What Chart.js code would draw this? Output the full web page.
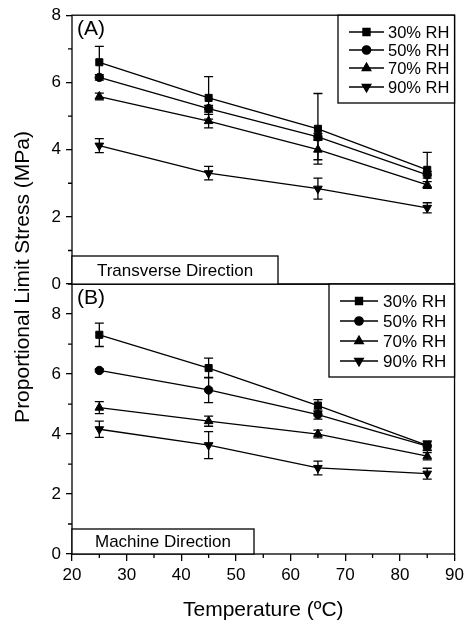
<!DOCTYPE html>
<html>
<head>
<meta charset="utf-8">
<script src="https://cdn.jsdelivr.net/npm/chart.js@4"></script>
<style>
    html, body { margin: 0; padding: 0; background: #fff; }
    #grafico { display: block; }
</style>
</head>
<body>
<canvas id="grafico" width="468" height="626"></canvas>
<script>
// Valores (MPa)
const temperaturas = [25, 45, 65, 85];
const rotulosUR = ['30% RH', '50% RH', '70% RH', '90% RH'];
const marcadores = ['rect', 'circle', 'triangle', 'triangle'];
const rotacoes = [0, 0, 0, 180];

// (A) Transverse Direction
const transv30 = [6.60, 5.54, 4.62, 3.40];
const transv50 = [6.15, 5.22, 4.38, 3.25];
const transv70 = [5.58, 4.85, 4.00, 2.95];
const transv90 = [4.12, 3.30, 2.84, 2.27];
const errTransv30 = [0.47, 0.63, 1.05, 0.52];
const errTransv50 = [0.08, 0.10, 0.10, 0.10];
const errTransv70 = [0.10, 0.20, 0.30, 0.10];
const errTransv90 = [0.21, 0.20, 0.31, 0.15];

// (B) Machine Direction
const maq30 = [7.31, 6.20, 4.95, 3.62];
const maq50 = [6.12, 5.47, 4.65, 3.60];
const maq70 = [4.88, 4.43, 4.00, 3.26];
const maq90 = [4.16, 3.63, 2.87, 2.68];
const errMaq30 = [0.39, 0.33, 0.20, 0.15];
const errMaq50 = [0.05, 0.42, 0.15, 0.15];
const errMaq70 = [0.20, 0.17, 0.13, 0.12];
const errMaq90 = [0.27, 0.45, 0.23, 0.18];

const fonte = "'Liberation Sans', Arial, sans-serif";

function serie(valores, erros, i, eixo) {
    return {
        label: rotulosUR[i],
        data: temperaturas.map((t, k) => ({ x: t, y: valores[k] })),
        erros: erros,
        yAxisID: eixo,
        showLine: true,
        borderColor: '#000',
        backgroundColor: '#000',
        borderWidth: 1.3,
        pointStyle: marcadores[i],
        rotation: rotacoes[i],
        pointRadius: i === 1 ? 4.2 : 5,
        pointBorderWidth: 1
    };
}

const datasets = [
    serie(transv30, errTransv30, 0, 'yA'),
    serie(transv50, errTransv50, 1, 'yA'),
    serie(transv70, errTransv70, 2, 'yA'),
    serie(transv90, errTransv90, 3, 'yA'),
    serie(maq30, errMaq30, 0, 'yB'),
    serie(maq50, errMaq50, 1, 'yB'),
    serie(maq70, errMaq70, 2, 'yB'),
    serie(maq90, errMaq90, 3, 'yB')
];

// Barras de erro desenhadas a partir das escalas do gráfico
const barrasErro = {
    id: 'barrasErro',
    beforeDatasetsDraw(chart) {
        const ctx = chart.ctx;
        const sx = chart.scales.x;
        ctx.save();
        ctx.strokeStyle = '#000';
        ctx.lineWidth = 1.3;
        chart.data.datasets.forEach(ds => {
            const sy = chart.scales[ds.yAxisID];
            ds.data.forEach((p, k) => {
                const e = ds.erros[k];
                const px = sx.getPixelForValue(p.x);
                const y1 = sy.getPixelForValue(p.y + e);
                const y2 = sy.getPixelForValue(p.y - e);
                ctx.beginPath();
                ctx.moveTo(px, y1); ctx.lineTo(px, y2);
                ctx.moveTo(px - 4.5, y1); ctx.lineTo(px + 4.5, y1);
                ctx.moveTo(px - 4.5, y2); ctx.lineTo(px + 4.5, y2);
                ctx.stroke();
            });
        });
        ctx.restore();
    }
};

// Molduras, ticks menores, legendas e textos dos painéis
function caixaTexto(ctx, x1, y1, x2, y2, texto, tam) {
    ctx.fillStyle = '#fff';
    ctx.fillRect(x1, y1, x2 - x1, y2 - y1);
    ctx.strokeRect(x1, y1, x2 - x1, y2 - y1);
    ctx.fillStyle = '#000';
    ctx.font = tam + 'px ' + fonte;
    ctx.textAlign = 'center';
    ctx.textBaseline = 'middle';
    ctx.fillText(texto, (x1 + x2) / 2, (y1 + y2) / 2 + 1);
}

function legenda(ctx, x1, y1, x2, y2, linhaIni, linhaFim, textoX, ys, tam, dsBase) {
    ctx.fillStyle = '#fff';
    ctx.fillRect(x1, y1, x2 - x1, y2 - y1);
    ctx.strokeRect(x1, y1, x2 - x1, y2 - y1);
    rotulosUR.forEach((r, i) => {
        const y = ys[i];
        ctx.beginPath();
        ctx.moveTo(linhaIni, y); ctx.lineTo(linhaFim, y);
        ctx.stroke();
        const ds = dsBase[i];
        ctx.fillStyle = '#000';
        Chart.helpers.drawPoint(ctx, {
            pointStyle: ds.pointStyle, rotation: ds.rotation,
            radius: ds.pointRadius, borderWidth: 1
        }, (linhaIni + linhaFim) / 2, y);
        ctx.font = tam + 'px ' + fonte;
        ctx.textAlign = 'left';
        ctx.textBaseline = 'middle';
        ctx.fillText(r, textoX, y + 1);
    });
}

const decoracao = {
    id: 'decoracao',
    afterDatasetsDraw(chart) {
        const ctx = chart.ctx;
        const a = chart.chartArea;
        const yA = chart.scales.yA, yB = chart.scales.yB, sx = chart.scales.x;
        ctx.save();
        ctx.strokeStyle = '#000';
        ctx.fillStyle = '#000';
        ctx.lineWidth = 1.3;

        // ticks menores
        ctx.beginPath();
        [[yA, 8], [yB, 9]].forEach(([s, max]) => {
            for (let v = 1; v <= max; v += 2) {
                const py = s.getPixelForValue(v);
                ctx.moveTo(a.left - 4, py); ctx.lineTo(a.left, py);
            }
        });
        for (let t = 25; t < 90; t += 10) {
            const px = sx.getPixelForValue(t);
            ctx.moveTo(px, a.bottom); ctx.lineTo(px, a.bottom + 4);
        }
        ctx.stroke();

        // molduras
        ctx.strokeRect(a.left, yA.top, a.right - a.left, yA.bottom - yA.top);
        ctx.strokeRect(a.left, yB.top, a.right - a.left, yB.bottom - yB.top);

        caixaTexto(ctx, a.left, 256, 278, yA.bottom, 'Transverse Direction', 17);
        caixaTexto(ctx, a.left, 529, 254, yB.bottom, 'Machine Direction', 17);

        ctx.font = '21px ' + fonte;
        ctx.textAlign = 'left';
        ctx.textBaseline = 'middle';
        ctx.fillText('(A)', a.left + 5, yA.top + 14);
        ctx.fillText('(B)', a.left + 5, yB.top + 14);

        legenda(ctx, 338, yA.top, a.right, 103, 349, 384, 388, [32, 50, 68, 87], 16.5, chart.data.datasets.slice(0, 4));
        legenda(ctx, 329, yB.top, a.right, 377, 340, 378, 383, [301, 321, 341, 361], 17, chart.data.datasets.slice(4, 8));

        // título do eixo y (comum aos dois painéis)
        ctx.translate(23, 277);
        ctx.rotate(-Math.PI / 2);
        ctx.font = '21px ' + fonte;
        ctx.textAlign = 'center';
        ctx.textBaseline = 'middle';
        ctx.fillText('Proportional Limit Stress (MPa)', 0, 0);
        ctx.restore();
    }
};

function eixoY(max) {
    return {
        type: 'linear',
        position: 'left',
        stack: 'paineis',
        stackWeight: max === 8 ? 270 : 271,
        min: 0,
        max: max,
        afterFit: s => { s.width = 72; },
        border: { display: false },
        grid: {
            drawOnChartArea: false,
            tickLength: 6,
            lineWidth: 1.3,
            color: c => (c.tick && c.tick.value % 2 === 0) ? '#000' : 'rgba(0,0,0,0)'
        },
        ticks: {
            stepSize: 1,
            autoSkip: false,
            padding: 5,
            color: '#000',
            font: { family: fonte, size: 17 },
            callback: v => (v % 2 === 0 ? v : '')
        }
    };
}

new Chart(document.getElementById('grafico'), {
    type: 'scatter',
    data: { datasets: datasets },
    options: {
        responsive: false,
        animation: false,
        layout: { padding: { left: 0, right: 11, top: 13, bottom: 0 } },
        plugins: { legend: { display: false }, tooltip: { enabled: false } },
        scales: {
            x: {
                type: 'linear',
                min: 20,
                max: 90,
                afterFit: s => { s.height = 72; },
                border: { display: false },
                grid: {
                    drawOnChartArea: false,
                    tickLength: 7,
                    lineWidth: 1.3,
                    color: c => (c.tick && c.tick.value % 10 === 0) ? '#000' : 'rgba(0,0,0,0)'
                },
                ticks: {
                    stepSize: 5,
                    autoSkip: false,
                    maxRotation: 0,
                    padding: 4,
                    color: '#000',
                    font: { family: fonte, size: 17 },
                    callback: v => (v % 10 === 0 ? v : '')
                },
                title: {
                    display: true,
                    text: 'Temperature (ºC)',
                    color: '#000',
                    font: { family: fonte, size: 21 },
                    padding: { top: 0, bottom: 3 }
                }
            },
            yB: eixoY(9),
            yA: eixoY(8)
        }
    },
    plugins: [barrasErro, decoracao]
});
</script>
</body>
</html>
